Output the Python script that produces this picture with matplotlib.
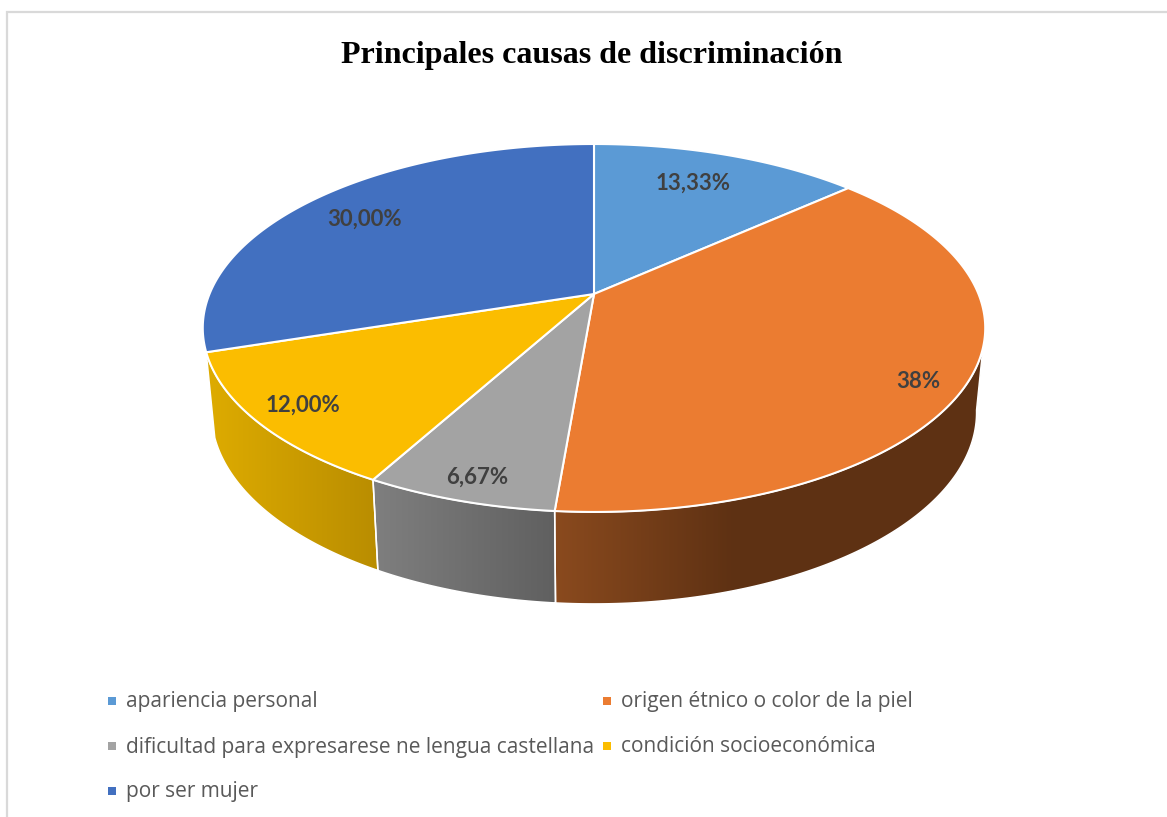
"""Principales causas de discriminación - pastel 3D dibujado con matplotlib."""
import numpy as np
import matplotlib
matplotlib.use("Agg")
import matplotlib.pyplot as plt
from matplotlib.colors import LinearSegmentedColormap
from matplotlib.patches import Polygon, Rectangle

categories = [
    "apariencia personal",
    "origen étnico o color de la piel",
    "dificultad para expresarese ne lengua castellana",
    "condición socioeconómica",
    "por ser mujer",
]
values = [13.33, 38.0, 6.67, 12.0, 30.0]
value_labels = ["13,33%", "38%", "6,67%", "12,00%", "30,00%"]

colors = ["#5B9AD5", "#EB7C31", "#A3A3A3", "#FBBD00", "#4270C0"]
# lado del pastel: color a la izquierda, color a la derecha, x de cada uno
side_colors = {
    1: ("#8A4A1E", "#5E3113", 555, 735),
    2: ("#7E7E7E", "#606060", 378, 555),
    3: ("#DCAA00", "#B98D00", 215, 378),
}
label_pos = [(693, 183), (918, 381), (477, 477), (303, 405), (365, 219)]
legend_pos = [(108, 701), (603, 701), (108, 746), (603, 746), (108, 791)]

# proyección en perspectiva del círculo superior e inferior
CX = 594
K = 0.1847
TOP = dict(cy=294, a=384.5, b=177.7)
BOTTOM = dict(cy=377, a=376, b=185)
SIDE_LIMIT = -10  # grados, donde el lado se oculta a la derecha


def project(t_deg, cy, a, b):
    t = np.radians(t_deg)
    d = 1 + K * np.sin(t)
    return CX + a * np.cos(t) / d, cy - b * np.sin(t) / d


fig = plt.figure(figsize=(11.67, 8.17), dpi=100)
ax = fig.add_axes([0, 0, 1, 1])
ax.set_xlim(0, 1167)
ax.set_ylim(817, 0)
ax.axis("off")

# marco del gráfico
ax.plot([7, 7, 1167], [817, 12, 12], color="#D9D9D9", lw=1.6, solid_joinstyle="miter")

ax.text(592, 55.5, "Principales causas de discriminación", ha="center", va="center",
        fontsize=23, fontweight="bold", family="Liberation Serif", color="black")

edges = 90 - np.concatenate([[0], np.cumsum(values)]) * 3.6

# lados
for i, (c1, c2, x1, x2) in side_colors.items():
    t = np.linspace(edges[i], max(edges[i + 1], -170), 200)
    t = t[t <= SIDE_LIMIT]
    if edges[i] > SIDE_LIMIT:
        t = np.concatenate([[SIDE_LIMIT], t])
    xt, yt = project(t, **TOP)
    xb, yb = project(t, **BOTTOM)
    pts = np.column_stack([np.r_[xt, xb[::-1]], np.r_[yt, yb[::-1]]])
    cmap = LinearSegmentedColormap.from_list(f"side{i}", [c1, c2])
    grad = np.linspace(0, 1, 256)[None, :]
    im = ax.imshow(grad, cmap=cmap, extent=(x1, x2, 817, 0), aspect="auto", zorder=2)
    # más allá de x2 el color queda fijo
    ax.add_patch(Rectangle((x2, 0), 1167 - x2, 817, color=c2, zorder=2)).set_clip_path(
        Polygon(pts, transform=ax.transData))
    ax.add_patch(Rectangle((0, 0), x1, 817, color=c1, zorder=2)).set_clip_path(
        Polygon(pts, transform=ax.transData))
    im.set_clip_path(Polygon(pts, transform=ax.transData))
    ax.add_patch(Polygon(pts, closed=True, fill=False, ec="white", lw=1.1, zorder=3))
ax.set_xlim(0, 1167)
ax.set_ylim(817, 0)

# cara superior
for i, col in enumerate(colors):
    t = np.linspace(edges[i], edges[i + 1], 200)
    xt, yt = project(t, **TOP)
    pts = np.column_stack([np.r_[CX, xt], np.r_[TOP["cy"], yt]])
    ax.add_patch(Polygon(pts, closed=True, fc=col, ec="white", lw=1.5, zorder=4,
                         joinstyle="round"))

for txt, (x, y) in zip(value_labels, label_pos):
    ax.text(x, y, txt, ha="center", va="center", fontsize=16, fontweight="bold",
            family="Lato", color="#404040", zorder=5)

for name, col, (x, y) in zip(categories, colors, legend_pos):
    ax.add_patch(Rectangle((x, y - 4), 8, 8, color=col, lw=0, zorder=5))
    ax.text(x + 18, y + 1, name, ha="left", va="center", fontsize=15, family="Open Sans",
            color="#595959", zorder=5)

fig.savefig("out.png", dpi=100)
